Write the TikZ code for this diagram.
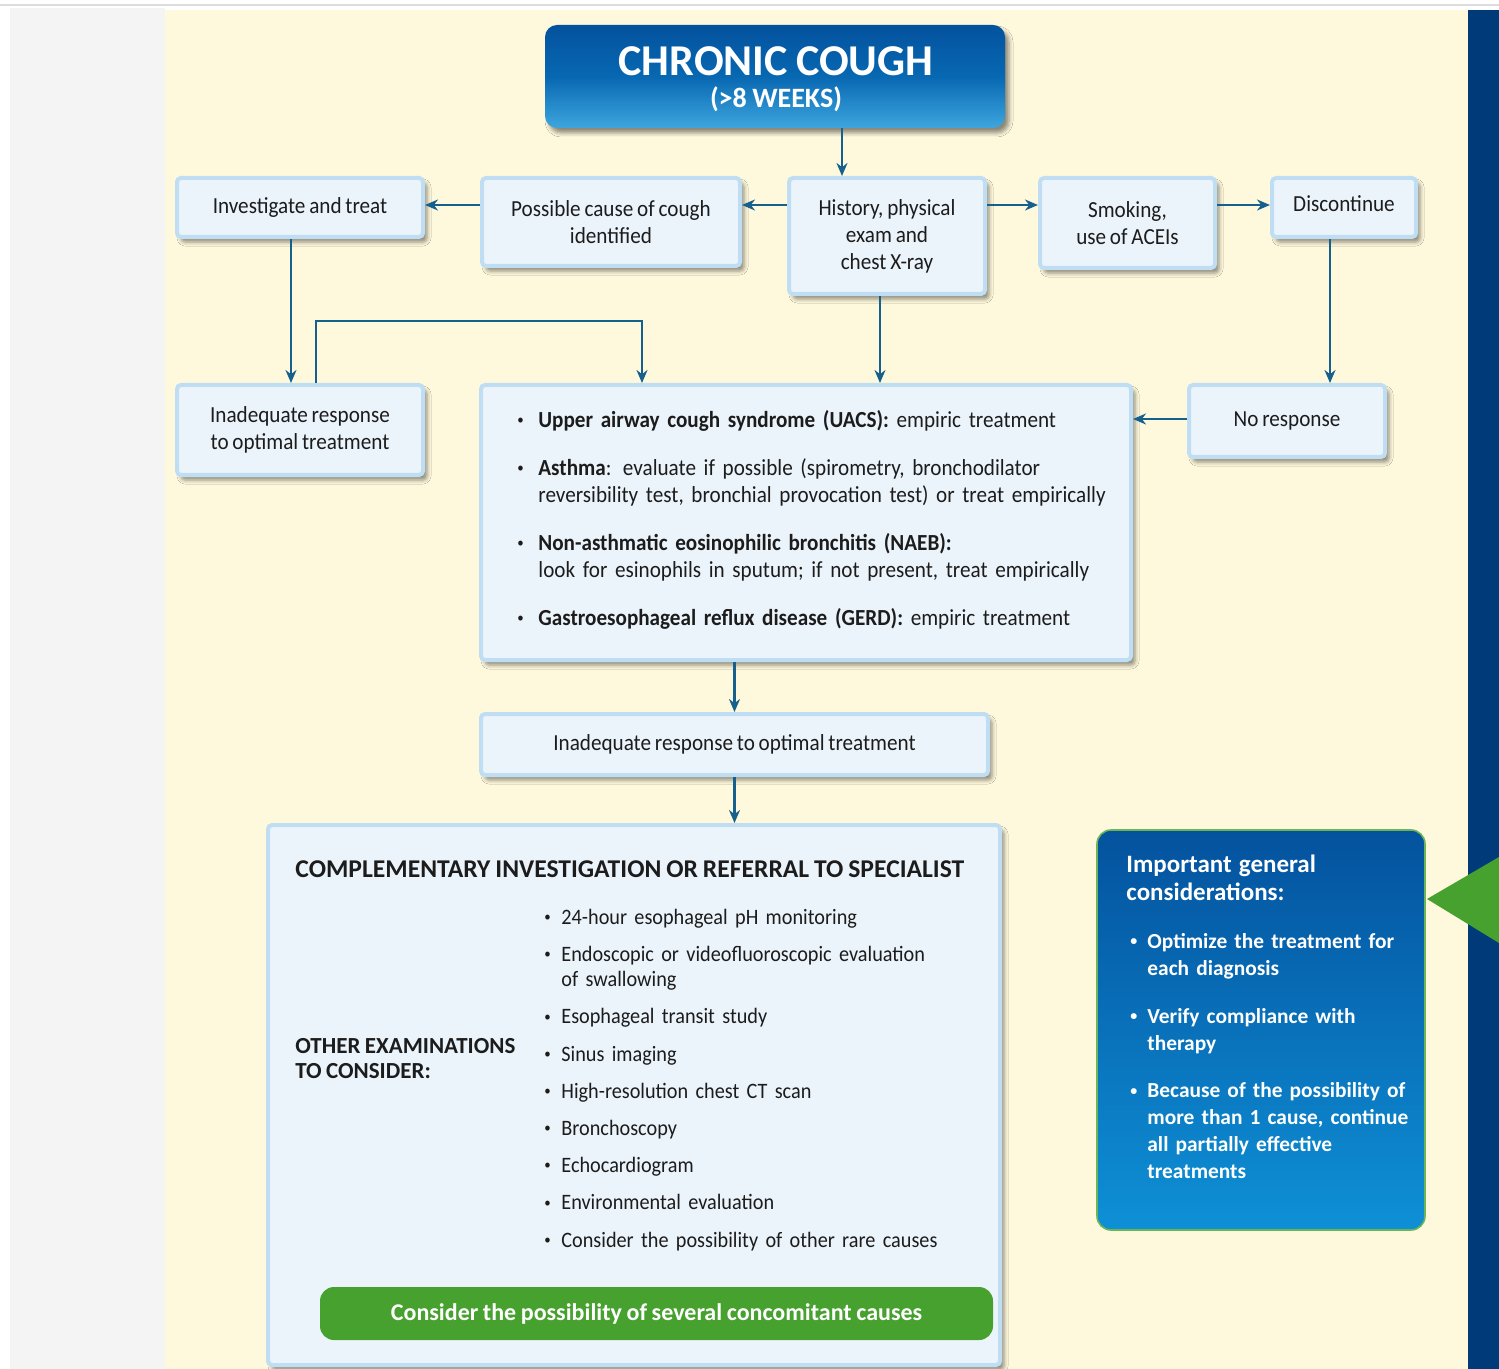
\documentclass[tikz,border=0pt]{standalone}
\usepackage{fontspec}
\setmainfont{Carlito}[FakeStretch=0.92, WordSpace=0.8]
\newfontfamily\widefont{Carlito}[WordSpace=0.85]
\usetikzlibrary{shadows.blur,arrows.meta,calc}

\definecolor{cream}{RGB}{254,249,220}
\definecolor{sidegray}{RGB}{244,244,244}
\definecolor{rulegray}{RGB}{220,220,220}
\definecolor{navybar}{RGB}{0,58,120}
\definecolor{boxfill}{RGB}{236,244,251}
\definecolor{boxline}{RGB}{192,222,243}
\definecolor{arrowblue}{RGB}{22,96,142}
\definecolor{leafgreen}{RGB}{70,161,46}
\definecolor{deepblue}{RGB}{4,82,158}
\definecolor{skyblue}{RGB}{14,144,214}
\definecolor{inktext}{RGB}{28,28,28}

% bulleted entry: a small dot, the first line, and indented continuation lines (\cont)
\newlength\bulletgap
\newlength\bulletpre
\newcommand\smalldot{\raisebox{0.12em}{\fontsize{7}{7}\selectfont•}}
\newcommand\dotitem[1]{\par\noindent\makebox[\bulletgap][l]{\hspace*{\bulletpre}\smalldot}#1}
\newcommand\cont{\newline\hspace*{\bulletgap}}

\tikzset{
  flowbox/.style={draw=boxline, line width=2pt, fill=boxfill, rounded corners=2pt,
    blur shadow={shadow xshift=2pt, shadow yshift=-2.5pt, shadow blur radius=2pt, shadow opacity=45},
    align=center, font=\fontsize{11.5}{13.5}\selectfont, text=inktext, inner sep=0pt},
  listtext/.style={anchor=north west, inner sep=0pt},
  arr/.style={draw=arrowblue, line width=1.3pt, -{Stealth[length=6.5pt,width=5.5pt]}},
}

\begin{document}
\begin{tikzpicture}[x=0.5pt,y=-0.5pt]
\useasboundingbox (0,0) rectangle (1499,1369);

% page background
\fill[white] (0,0) rectangle (1499,1369);
\draw[rulegray, line width=1pt] (0,5.5) -- (1499,5.5);
\fill[sidegray] (10,8) rectangle (165,1369);
\fill[cream] (165,10) rectangle (1468,1369);
\fill[navybar] (1468,10) rectangle (1499,1369);
\fill[leafgreen] (1427,899) -- (1499,857) -- (1499,943) -- cycle;

% title
\node[rounded corners=6pt, top color=deepblue, bottom color=skyblue!80!white, middle color=deepblue!65!skyblue,
      minimum width=230pt, minimum height=51.5pt, inner sep=0pt,
      blur shadow={shadow xshift=2pt, shadow yshift=-2.5pt, shadow blur radius=2pt, shadow opacity=45}]
  (title) at (775,76.5) {};
\node[anchor=base, inner sep=0pt, text=white, font=\widefont\bfseries\fontsize{22}{22}\selectfont] (titlemain) at (776,75.5) {CHRONIC COUGH};
\node[anchor=base, inner sep=0pt, text=white, font=\widefont\bfseries\fontsize{14}{14}\selectfont] (titlesub) at (776,107.5) {(>8 WEEKS)};

% first row
\node[flowbox, minimum width=123pt, minimum height=29.5pt] (inv) at (300,207.5) {Investigate and treat};
\node[flowbox, minimum width=129pt, minimum height=44pt] (poss) at (611,222) {Possible cause of cough\\identified};
\node[flowbox, minimum width=98pt, minimum height=58pt] (hist) at (887,236) {History, physical\\exam and\\chest X-ray};
\node[flowbox, minimum width=87.5pt, minimum height=45pt] (smoke) at (1127.5,223) {Smoking,\\use of ACEIs};
\node[flowbox, minimum width=72pt, minimum height=29.5pt, text depth=4pt] (disc) at (1344,207.5) {Discontinue};

% second row
\node[flowbox, minimum width=123pt, minimum height=45pt] (inadA) at (300,430) {Inadequate response\\to optimal treatment};
\node[flowbox, minimum width=325pt, minimum height=137.5pt] (main) at (806,522.5) {};
\node[flowbox, minimum width=98pt, minimum height=36pt] (noresp) at (1287,421) {No response};

\node[listtext, text width=310pt, text=inktext, font=\fontsize{11.5}{13.5}\selectfont] (causes) at (517,400) {%
  \raggedright\setlength\bulletgap{10.5pt}%
  \dotitem{\textbf{Upper airway cough syndrome (UACS):} empiric treatment}\par\vspace{10.5pt}
  \dotitem{\textbf{Asthma}: evaluate if possible (spirometry, bronchodilator\cont reversibility test, bronchial provocation test) or treat empirically}\par\vspace{10.5pt}
  \dotitem{\textbf{Non-asthmatic eosinophilic bronchitis (NAEB):}\cont look for esinophils in sputum; if not present, treat empirically}\par\vspace{10.5pt}
  \dotitem{\textbf{Gastroesophageal reflux disease (GERD):} empiric treatment}};

% third row
\node[flowbox, minimum width=253.5pt, minimum height=30.5pt] (inadB) at (734.5,744.5) {Inadequate response to optimal treatment};

% referral box
\node[flowbox, minimum width=366pt, minimum height=270pt] (big) at (634,1095) {};
\node[anchor=west, inner sep=0pt, text=inktext, font=\widefont\bfseries\fontsize{12.8}{14}\selectfont] (refhead) at (295,869)
  {COMPLEMENTARY INVESTIGATION OR REFERRAL TO SPECIALIST};
\node[anchor=west, inner sep=0pt, text=inktext, align=left, font=\widefont\bfseries\fontsize{11.5}{12.5}\selectfont] (otherhead) at (295,1059)
  {OTHER EXAMINATIONS\\TO CONSIDER:};
\node[listtext, text width=215pt, text=inktext, font=\fontsize{11}{12.5}\selectfont] (exams) at (544,899) {%
  \raggedright\setlength\bulletgap{8.5pt}%
  \dotitem{24-hour esophageal pH monitoring}\par\vspace{6.1pt}
  \dotitem{Endoscopic or videofluoroscopic evaluation\cont of swallowing}\par\vspace{6.1pt}
  \dotitem{Esophageal transit study}\par\vspace{6.1pt}
  \dotitem{Sinus imaging}\par\vspace{6.1pt}
  \dotitem{High-resolution chest CT scan}\par\vspace{6.1pt}
  \dotitem{Bronchoscopy}\par\vspace{6.1pt}
  \dotitem{Echocardiogram}\par\vspace{6.1pt}
  \dotitem{Environmental evaluation}\par\vspace{6.1pt}
  \dotitem{Consider the possibility of other rare causes}};
\node[fill=leafgreen, rounded corners=7pt, minimum width=336.5pt, minimum height=26.5pt, inner sep=0pt,
      text=white, font=\widefont\bfseries\fontsize{12}{13}\selectfont] (several) at (656.5,1313.5)
  {Consider the possibility of several concomitant causes};

% general considerations
\node[rounded corners=7pt, top color=deepblue, bottom color=skyblue, draw=leafgreen!80!white, line width=0.8pt,
      minimum width=164pt, minimum height=200pt, inner sep=0pt] (general) at (1261,1030) {};
\node[listtext, text width=150pt, text=white, font=\widefont\bfseries\fontsize{10.7}{13.5}\selectfont] (generaltext) at (1126,855) {%
  \raggedright\setlength\bulletgap{10.5pt}\setlength\bulletpre{2pt}%
  \noindent{\fontsize{12.5}{14}\selectfont Important general\newline considerations:\par}\vspace{10.3pt}
  \dotitem{Optimize the treatment for\cont each diagnosis}\par\vspace{10.3pt}
  \dotitem{Verify compliance with\cont therapy}\par\vspace{10.3pt}
  \dotitem{Because of the possibility of\cont more than 1 cause, continue\cont all partially effective\cont treatments}};

% connectors
\draw[arr] ([xshift=33.5pt]title.south) -- ([xshift=33.5pt]title.south |- hist.north);
\draw[arr] ([yshift=-14.5pt]hist.north west) -- ([yshift=-14.5pt]hist.north west -| poss.east);
\draw[arr] ([yshift=-14.5pt]poss.north west) -- ([yshift=-14.5pt]poss.north west -| inv.east);
\draw[arr] ([yshift=-14.5pt]hist.north east) -- ([yshift=-14.5pt]hist.north east -| smoke.west);
\draw[arr] ([yshift=-14.5pt]smoke.north east) -- ([yshift=-14.5pt]smoke.north east -| disc.west);
\draw[arr] ([xshift=-4.5pt]inv.south) -- ([xshift=-4.5pt]inv.south |- inadA.north);
\draw[arr] ([xshift=8pt]inadA.north) -- ++(0,-62) -| ([xshift=-82pt]main.north);
\draw[arr] ([xshift=-3.5pt]hist.south) -- ([xshift=-3.5pt]hist.south |- main.north);
\draw[arr] ([xshift=-7pt]disc.south) -- ([xshift=-7pt]disc.south |- noresp.north);
\draw[arr] ([yshift=1pt]noresp.west) -- ([yshift=1pt]noresp.west -| main.east);
\draw[arr] (inadB.north |- main.south) -- (inadB.north);
\draw[arr] (inadB.south) -- (inadB.south |- big.north);
\end{tikzpicture}
\end{document}
